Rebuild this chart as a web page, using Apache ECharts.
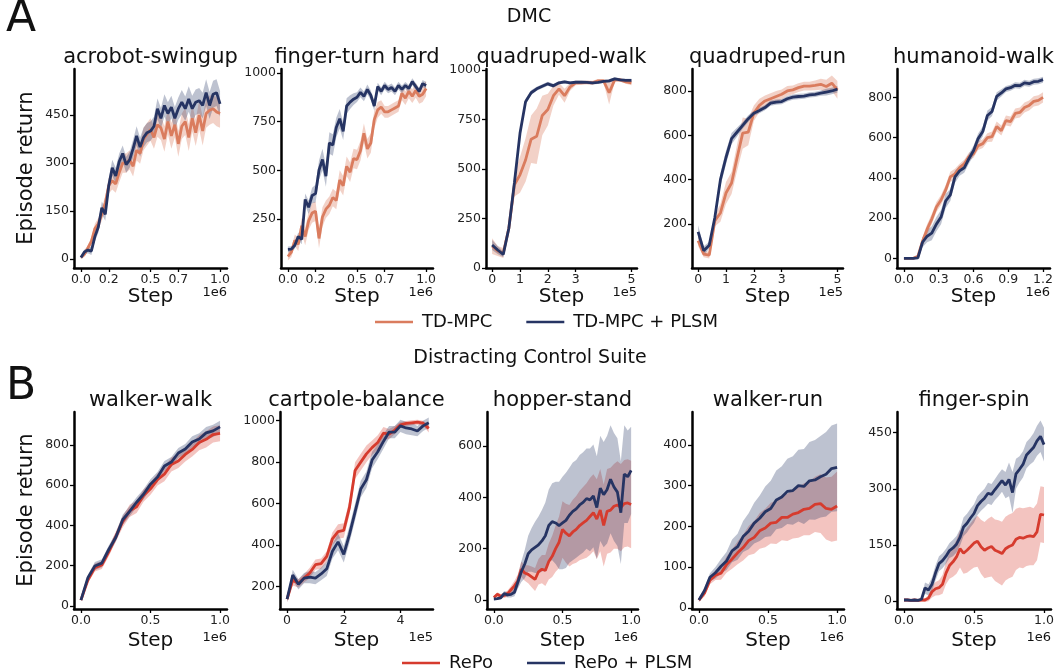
<!DOCTYPE html>
<html><head><meta charset="utf-8">
<script src="https://cdn.jsdelivr.net/npm/echarts@6/dist/echarts.min.js"></script>
<style>html,body{margin:0;padding:0;background:#fff}#c{width:1058px;height:672px}</style>
</head><body><div id="c"></div>
<script>
// ---------- step grids (x values) ----------
const stepsFine = [0,0.025,0.05,0.075,0.1,0.125,0.15,0.175,0.2,0.225,0.25,0.275,0.3,0.325,0.35,0.375,0.4,0.425,0.45,0.475,0.5,0.525,0.55,0.575,0.6,0.625,0.65,0.675,0.7,0.725,0.75,0.775,0.8,0.825,0.85,0.875,0.9,0.925,0.95,0.975,1.0];
const stepsQuad = [0,0.2,0.4,0.6,0.8,1.0,1.2,1.4,1.6,1.8,2.0,2.2,2.4,2.6,2.8,3.0,3.2,3.4,3.6,3.8,4.0,4.2,4.4,4.6,4.8,5.0];
const stepsHum = [0,0.04,0.08,0.12,0.16,0.2,0.24,0.28,0.32,0.36,0.4,0.44,0.48,0.52,0.56,0.6,0.64,0.68,0.72,0.76,0.8,0.84,0.88,0.92,0.96,1.0,1.04,1.08,1.12,1.16,1.2];
const stepsWW = [0,0.05,0.1,0.15,0.2,0.25,0.3,0.35,0.4,0.45,0.5,0.55,0.6,0.65,0.7,0.75,0.8,0.85,0.9,0.95,1.0];
const stepsWR = [0,0.04,0.08,0.12,0.16,0.2,0.24,0.28,0.32,0.36,0.4,0.44,0.48,0.52,0.56,0.6,0.64,0.68,0.72,0.76,0.8,0.84,0.88,0.92,0.96,1.0];

// ---------- tick labels ----------
const xTicksA12 = [0,0.2,0.5,0.7,1.0];
const xTicksQuad = [0,1,2,3,5];
const xTicksHum = [0,0.3,0.6,0.9,1.2];
const xTicksUnit = [0,0.5,1.0];
const xTicksCart = [0,2,4];
const yTicksAcro = [0,150,300,450];
const yTicksFinger = [250,500,750,1000];
const yTicksQW = [0,250,500,750,1000];
const yTicksQR = [200,400,600,800];
const yTicksHum = [0,200,400,600,800];
const yTicksWW = [0,200,400,600,800];
const yTicksCart = [200,400,600,800,1000];
const yTicksHop = [0,200,400,600];
const yTicksWR = [0,100,200,300,400];
const yTicksFS = [0,150,300,450];

// ---------- DMC (TD-MPC vs TD-MPC + PLSM) ----------
const acroTd   = [5,15,35,55,95,110,140,175,230,245,235,270,300,300,310,290,340,330,375,390,405,380,420,410,375,430,385,420,360,415,430,380,440,395,450,400,455,465,470,460,455];
const acroTdSd = [5,8,10,12,15,18,20,22,25,28,28,30,30,30,30,32,32,32,35,35,35,35,38,38,40,40,40,40,40,40,42,42,42,42,45,45,45,45,45,45,45];
const acroPl   = [5,22,28,25,70,100,160,140,230,285,260,305,330,295,310,345,385,350,380,395,400,415,470,440,480,455,475,440,470,490,470,500,470,490,495,480,520,480,515,520,485];
const acroPlSd = [5,8,10,12,15,18,20,20,22,25,25,25,25,25,25,28,30,30,30,30,30,30,32,32,35,35,35,35,35,38,38,40,40,40,40,40,42,42,42,42,40];

const fingTd   = [57,80,140,120,215,160,240,280,290,150,260,300,320,360,345,450,420,520,490,560,555,600,690,610,640,760,810,825,800,800,810,820,830,895,870,905,880,910,880,890,920];
const fingTdSd = [20,25,30,35,40,45,45,50,50,50,50,45,45,45,45,50,50,50,50,50,50,50,50,50,50,45,40,35,30,30,30,30,30,35,35,35,35,38,38,40,40];
const fingPl   = [94,95,115,160,145,350,310,370,380,500,555,470,640,630,720,765,700,830,850,865,875,900,880,915,885,830,930,905,935,915,925,905,935,915,935,920,955,930,905,945,935];
const fingPlSd = [15,15,18,20,25,30,35,40,45,50,55,55,55,55,50,50,45,40,35,30,25,25,25,25,25,25,20,20,20,20,20,20,20,20,18,18,18,18,18,18,18];

const qwTd   = [110,85,75,200,420,470,545,650,665,770,800,870,905,870,915,935,935,937,935,945,945,885,950,950,940,935];
const qwTdSd = [40,25,25,30,60,90,110,120,140,100,80,50,30,35,20,12,10,10,10,10,10,60,10,10,10,12];
const qwPl   = [115,90,68,200,430,680,840,885,905,918,930,920,935,940,935,938,938,937,935,937,942,945,955,950,948,948];
const qwPlSd = [25,20,15,20,25,25,15,12,10,10,10,10,8,8,8,8,8,8,8,8,8,8,8,8,8,8];

const qrTd   = [125,65,60,215,250,340,385,500,610,615,700,735,755,765,775,785,800,805,815,822,822,825,830,820,835,805];
const qrTdSd = [25,15,15,25,40,50,50,60,70,60,35,30,25,25,25,22,22,20,20,20,20,22,25,30,35,40];
const qrPl   = [165,80,105,230,400,500,585,615,645,675,700,712,725,745,750,752,765,772,775,777,782,785,790,795,800,808];
const qrPlSd = [30,20,15,20,30,30,25,20,15,15,12,12,12,12,12,12,12,12,12,12,12,12,12,15,15,15];

const humTd   = [0,0,0,10,85,145,195,255,290,340,405,420,450,470,505,520,560,570,600,605,655,635,685,680,720,725,750,760,780,785,800];
const humTdSd = [3,3,3,8,20,25,25,25,25,25,25,25,20,20,20,20,22,22,22,25,25,25,25,25,25,25,25,25,25,25,25];
const humPl   = [0,0,0,2,80,110,125,170,205,285,315,405,435,450,495,535,595,630,710,730,805,822,842,848,860,858,872,868,878,880,888];
const humPlSd = [3,3,3,5,25,30,35,35,35,35,30,30,25,25,25,25,25,25,25,22,20,18,15,15,15,15,15,15,15,15,15];

// ---------- Distracting Control Suite (RePo vs RePo + PLSM) ----------
const wwRe   = [28,128,190,203,268,343,418,472,492,548,582,628,655,703,720,753,778,812,828,852,858];
const wwReSd = [5,15,20,20,22,25,28,30,30,30,30,30,35,35,35,35,35,38,40,40,40];
const wwPl   = [28,140,198,212,280,340,428,470,515,555,605,640,695,715,760,780,815,830,860,870,890];
const wwPlSd = [5,15,20,20,20,22,25,25,25,25,25,25,25,25,25,25,28,28,30,30,30];

const cpRe   = [139,230,215,240,265,305,310,345,430,465,470,580,760,800,840,870,895,940,935,955,980,987,990,993,988,963];
const cpReSd = [15,25,20,20,25,25,25,25,30,35,35,35,40,40,40,35,35,30,25,20,15,12,12,12,12,20];
const cpPl   = [139,255,210,240,245,240,260,285,370,415,355,450,560,670,715,810,850,900,945,945,975,965,960,950,975,990];
const cpPlSd = [15,25,25,25,30,30,30,35,35,40,40,40,40,40,40,40,35,35,30,30,30,30,30,25,25,25];

const hopRe   = [10,22,15,18,25,40,55,75,120,105,100,90,80,110,120,115,150,170,200,225,275,260,250,265,275,290,300,310,325,340,315,350,290,345,350,365,370,360,375,378,372];
const hopReSd = [5,8,8,10,12,15,20,25,30,30,35,40,45,50,55,60,70,80,90,100,110,115,120,125,130,135,140,145,150,150,155,160,160,165,165,165,170,170,170,170,170];
const hopPl   = [4,5,8,25,20,22,30,70,110,140,180,195,205,215,230,250,290,305,300,290,300,310,330,345,355,370,380,395,390,405,360,435,410,430,470,440,420,340,490,480,505];
const hopPlSd = [3,4,5,10,10,12,15,25,40,55,70,85,100,110,120,130,140,150,160,170,180,185,185,190,190,195,195,195,200,200,200,205,205,210,210,210,210,200,190,180,170];

const wrRe   = [19,36,68,80,85,106,120,135,148,165,173,189,196,208,210,222,222,230,234,242,244,254,256,244,242,250];
const wrReSd = [5,8,10,12,16,20,24,28,32,36,40,44,47,50,53,56,58,60,62,64,66,68,72,76,80,85];
const wrPl   = [19,42,75,86,102,115,140,150,175,188,208,220,236,244,265,272,286,288,300,298,312,314,322,328,342,345];
const wrPlSd = [5,8,10,14,18,22,28,32,38,44,50,56,62,68,72,76,80,84,88,92,95,98,100,104,106,108];

const fsRe   = [3,3,2,3,2,3,3,8,25,33,36,45,75,95,105,118,140,128,136,145,155,160,145,136,142,146,136,132,127,140,146,150,165,170,168,172,174,172,185,232,230];
const fsReSd = [3,3,3,3,3,3,5,8,15,18,20,25,30,35,40,45,50,55,60,62,65,68,72,75,78,80,82,84,85,85,85,85,82,80,80,78,78,76,76,75,75];
const fsPl   = [3,3,2,3,2,5,35,30,45,75,100,108,120,135,142,152,170,198,208,222,234,255,266,275,288,285,298,310,322,310,325,290,340,352,365,390,400,410,428,440,418];
const fsPlSd = [3,3,3,3,3,5,15,15,18,20,20,20,20,20,22,22,22,25,25,25,25,25,25,25,28,28,28,30,30,35,45,55,40,35,35,35,35,38,40,42,45];

// ---------- styling ----------
const FONT = '"DejaVu Sans", "Noto Sans", sans-serif';
const C_TD = '#DA7C5E', C_PL = '#263463', C_RE = '#D63B2E';
const TXT = '#111';

const panels = [
  {t:'acrobot-swingup', g:[74,69,153,199], x:[-0.05,1.05], y:[-28,594], xt:xTicksA12, yt:yTicksAcro, d:1, u:'1e6', s:stepsFine, b:acroTd, bs:acroTdSd, p:acroPl, ps:acroPlSd, row:0},
  {t:'finger-turn hard', g:[281,69,152,199], x:[-0.05,1.05], y:[-2,1020], xt:xTicksA12, yt:yTicksFinger, d:1, u:'1e6', s:stepsFine, b:fingTd, bs:fingTdSd, p:fingPl, ps:fingPlSd, row:0},
  {t:'quadruped-walk', g:[486,69,151,199], x:[-0.22,5.2], y:[-1,1005], xt:xTicksQuad, yt:yTicksQW, d:0, u:'1e5', s:stepsQuad, b:qwTd, bs:qwTdSd, p:qwPl, ps:qwPlSd, row:0},
  {t:'quadruped-run', g:[692,69,151,199], x:[-0.22,5.2], y:[2,899], xt:xTicksQuad, yt:yTicksQR, d:0, u:'1e5', s:stepsQuad, b:qrTd, bs:qrTdSd, p:qrPl, ps:qrPlSd, row:0},
  {t:'humanoid-walk', g:[897,69,153,199], x:[-0.06,1.26], y:[-48,941], xt:xTicksHum, yt:yTicksHum, d:1, u:'1e6', s:stepsHum, b:humTd, bs:humTdSd, p:humPl, ps:humPlSd, row:0},
  {t:'walker-walk', g:[74,412,153,197], x:[-0.05,1.05], y:[-16,964], xt:xTicksUnit, yt:yTicksWW, d:1, u:'1e6', s:stepsWW, b:wwRe, bs:wwReSd, p:wwPl, ps:wwPlSd, row:1},
  {t:'cartpole-balance', g:[280,412,153,197], x:[-0.25,5.15], y:[91,1042], xt:xTicksCart, yt:yTicksCart, d:0, u:'1e5', s:stepsQuad, b:cpRe, bs:cpReSd, p:cpPl, ps:cpPlSd, row:1},
  {t:'hopper-stand', g:[487,412,151,197], x:[-0.05,1.05], y:[-35,732], xt:xTicksUnit, yt:yTicksHop, d:1, u:'1e6', s:stepsFine, b:hopRe, bs:hopReSd, p:hopPl, ps:hopPlSd, row:1},
  {t:'walker-run', g:[692,412,152,197], x:[-0.05,1.05], y:[-3,481], xt:xTicksUnit, yt:yTicksWR, d:1, u:'1e6', s:stepsWR, b:wrRe, bs:wrReSd, p:wrPl, ps:wrPlSd, row:1},
  {t:'finger-spin', g:[897,412,154,197], x:[-0.05,1.05], y:[-21,505], xt:xTicksUnit, yt:yTicksFS, d:1, u:'1e6', s:stepsFine, b:fsRe, bs:fsReSd, p:fsPl, ps:fsPlSd, row:1}
];

const grids = [], xAxes = [], yAxes = [], series = [], graphics = [];

function txt(text, x, y, size, align, extra) {
  return Object.assign({
    type:'text', x:x, y:y, silent:true,
    style:{text:text, font: size + 'px ' + FONT, fill:TXT,
           align:align || 'center', verticalAlign:'middle',
           textAlign:align || 'center', textVerticalAlign:'middle'}
  }, extra || {});
}

function band(name, i, xs, mean, sd, color, alpha) {
  const pts = xs.map((x, k) => [x, mean[k] - sd[k], mean[k] + sd[k]]);
  return {
    type:'custom', name:name, coordinateSystem:'cartesian2d', xAxisIndex:i, yAxisIndex:i,
    data: pts, encode:{x:0, y:[1,2]}, silent:true, z:1, clip:true,
    renderItem: function (params, api) {
      if (params.dataIndex !== 0) return;
      const up = pts.map(p => api.coord([p[0], p[2]]));
      const lo = pts.map(p => api.coord([p[0], p[1]])).reverse();
      return {type:'polygon', shape:{points: up.concat(lo)}, style:{fill: color, opacity: alpha}};
    }
  };
}

function line(name, i, xs, mean, color) {
  return {
    type:'line', name:name, xAxisIndex:i, yAxisIndex:i,
    data: xs.map((x, k) => [x, mean[k]]),
    showSymbol:false, symbol:'none', silent:true, z:3,
    lineStyle:{color:color, width:2.8}, itemStyle:{color:color}
  };
}

panels.forEach((P, i) => {
  const [l, t, w, h] = P.g;
  grids.push({left:l, top:t, width:w, height:h, containLabel:false});
  const axisCommon = {
    axisLine:{show:true, onZero:false, lineStyle:{color:'#000', width:2.5}},
    splitLine:{show:false}
  };
  xAxes.push(Object.assign({
    type:'value', gridIndex:i, min:P.x[0], max:P.x[1],
    axisTick:{show:true, length:4, lineStyle:{color:'#000', width:1.3}, customValues:P.xt},
    axisLabel:{customValues:P.xt, fontSize:12.5, fontFamily:FONT, color:'#222', margin:5,
               formatter: v => P.d ? Number(v).toFixed(1) : String(Math.round(v))}
  }, axisCommon));
  yAxes.push(Object.assign({
    type:'value', gridIndex:i, min:P.y[0], max:P.y[1],
    axisTick:{show:true, length:4, lineStyle:{color:'#000', width:1.3}, customValues:P.yt},
    axisLabel:{customValues:P.yt, fontSize:12.5, fontFamily:FONT, color:'#222', margin:5,
               formatter: v => String(Math.round(v))}
  }, axisCommon));

  const baseName = P.row === 0 ? 'TD-MPC' : 'RePo';
  const baseColor = P.row === 0 ? C_TD : C_RE;
  const plName = baseName + ' + PLSM';
  series.push(band(baseName + ' band', i, P.s, P.b, P.bs, baseColor, P.row === 0 ? 0.35 : 0.3));
  series.push(band(plName + ' band', i, P.s, P.p, P.ps, C_PL, 0.3));
  series.push(line(baseName, i, P.s, P.b, baseColor));
  series.push(line(plName, i, P.s, P.p, C_PL));

  const cx = l + w / 2;
  const titleY = P.row === 0 ? 58 : 401;
  const stepY = P.row === 0 ? 297 : 641;
  const unitY = P.row === 0 ? 293 : 638;
  graphics.push(txt(P.t, cx, titleY, 21));
  graphics.push(txt('Step', cx, stepY, 20));
  graphics.push(txt(P.u, l + w, unitY, 13, 'right'));
});

graphics.push(txt('Episode return', 27, 168, 21, 'center', {rotation: Math.PI / 2}));
graphics.push(txt('Episode return', 27, 510, 21, 'center', {rotation: Math.PI / 2}));
graphics.push(txt('A', 21, 20, 44));
graphics.push(txt('B', 21, 388, 44));
graphics.push(txt('DMC', 529, 17, 19));
graphics.push(txt('Distracting Control Suite', 530, 358, 19));

const legendCommon = {
  icon:'rect', itemWidth:38, itemHeight:2.6, itemGap:34, selectedMode:false,
  textStyle:{fontSize:18, fontFamily:FONT, color:TXT, padding:[0,0,0,4]}
};

const option = {
  backgroundColor:'#fff',
  animation:false,
  grid: grids, xAxis: xAxes, yAxis: yAxes, series: series,
  legend: [
    Object.assign({data:['TD-MPC','TD-MPC + PLSM'], left:370, top:308}, legendCommon),
    Object.assign({data:['RePo','RePo + PLSM'], left:397, top:649}, legendCommon)
  ],
  graphic: graphics
};

const chart = echarts.init(document.getElementById('c'));
chart.setOption(option);
</script></body></html>
